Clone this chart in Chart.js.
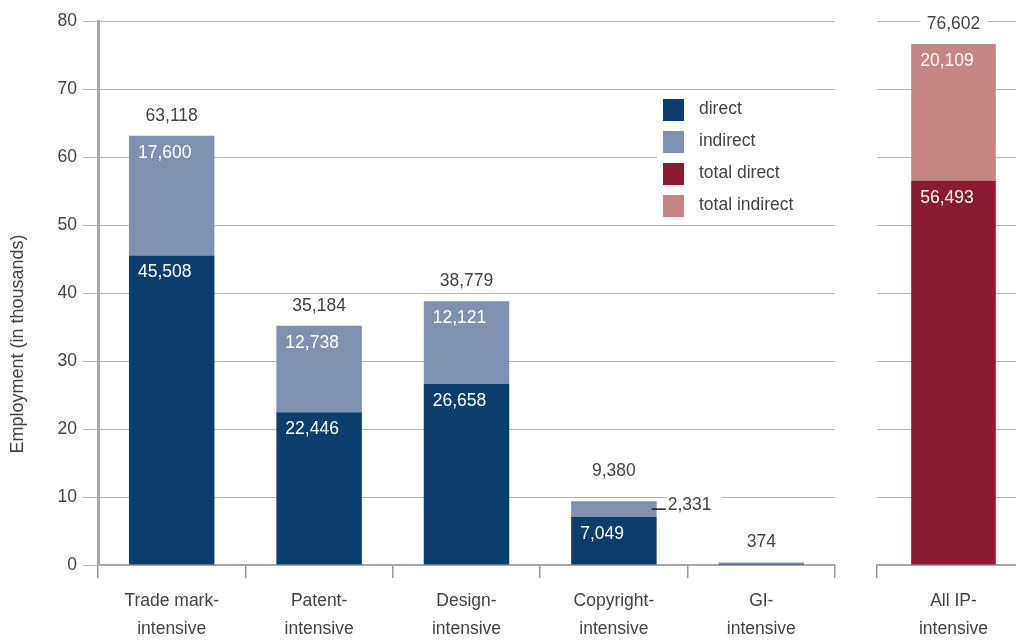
<!DOCTYPE html>
<html lang="en">
<head>
<meta charset="UTF-8">
<title>Employment in IP-intensive industries</title>
<script src="https://cdn.jsdelivr.net/npm/chart.js"></script>
<style>
  body { margin: 0; width: 1016px; height: 640px; overflow: hidden; background: #fff; position: relative; }
  #left { position: absolute; left: 0; top: 0; }
  #right { position: absolute; left: 860px; top: 0; }
</style>
</head>
<body>
<canvas id="left" width="840" height="640"></canvas>
<canvas id="right" width="170" height="640"></canvas>

<script>
// data (thousands of jobs)
const categories = [['Trade mark-', 'intensive'], ['Patent-', 'intensive'], ['Design-', 'intensive'], ['Copyright-', 'intensive'], ['GI-', 'intensive']];
const direct   = [45.508, 22.446, 26.658, 7.049, 0.15];
const indirect = [17.600, 12.738, 12.121, 2.331, 0.224];
const totals   = [63.118, 35.184, 38.779, 9.380, 0.374];

const allCategory   = [['All IP-', 'intensive']];
const totalDirect   = [56.493];
const totalIndirect = [20.109];
const allTotals     = [76.602];

const yTicks = [0, 10, 20, 30, 40, 50, 60, 70, 80];
const legendLabels = ['direct', 'indirect', 'total direct', 'total indirect'];

// colours
const C_DIRECT = '#0b3e6c';
const C_INDIRECT = '#8090b0';
const C_TDIRECT = '#8c1a33';
const C_TINDIRECT = '#c58585';
const legendColors = [C_DIRECT, C_INDIRECT, C_TDIRECT, C_TINDIRECT];

const TEXT = '#444';
const FONT = "'Liberation Sans', Arial, sans-serif";
const FSIZE = 17.5;

const fmt = v => Math.round(v * 1000).toLocaleString('en-US');

// value labels: inside segments, outside for thin ones, total on top
const barLabels = {
  id: 'barLabels',
  afterDatasetsDraw(chart, args, opts) {
    const ctx = chart.ctx;
    const metas = [chart.getDatasetMeta(0), chart.getDatasetMeta(1)];
    ctx.save();
    ctx.font = FSIZE + 'px ' + FONT;
    ctx.textBaseline = 'middle';
    metas[0].data.forEach((bar, i) => {
      const right = bar.x + bar.width / 2;
      const left = bar.x - bar.width / 2;
      let gap = 20;
      metas.forEach((m, k) => {
        const seg = m.data[i];
        const h = seg.base - seg.y;
        const txt = fmt(chart.data.datasets[k].data[i]);
        if (h >= 24) {
          ctx.fillStyle = '#fff';
          ctx.textAlign = 'left';
          ctx.fillText(txt, left + 9, seg.y + 17);
        } else if (h >= 6) {
          const mid = (seg.y + seg.base) / 2;
          const w = ctx.measureText(txt).width;
          ctx.fillStyle = '#fff';
          ctx.fillRect(right + 10, mid - 14, w + 12, 22);
          ctx.strokeStyle = '#222';
          ctx.lineWidth = 1.5;
          ctx.beginPath();
          ctx.moveTo(right - 5, mid);
          ctx.lineTo(right + 9, mid);
          ctx.stroke();
          ctx.fillStyle = TEXT;
          ctx.textAlign = 'left';
          ctx.fillText(txt, right + 11, mid - 4);
          gap = 30;
        }
      });
      const top = metas[1].data[i].y;
      const t = fmt(opts.totals[i]);
      const tw = ctx.measureText(t).width;
      const ty = top - gap;
      ctx.fillStyle = '#fff';
      ctx.fillRect(bar.x - tw / 2 - 7, ty - 11, tw + 14, 22);
      ctx.fillStyle = TEXT;
      ctx.textAlign = 'center';
      ctx.fillText(t, bar.x, ty);
    });
    ctx.restore();
  }
};

// legend box in the upper right of the left panel
const boxLegend = {
  id: 'boxLegend',
  afterDraw(chart) {
    const ctx = chart.ctx;
    const x0 = chart.chartArea.right - 172;
    const y0 = 99;
    ctx.save();
    ctx.fillStyle = '#fff';
    ctx.fillRect(x0 - 6, y0 - 6, 178, 124);
    ctx.font = '17.5px ' + FONT;
    ctx.textBaseline = 'middle';
    ctx.textAlign = 'left';
    legendLabels.forEach((lab, i) => {
      const y = y0 + i * 32;
      ctx.fillStyle = legendColors[i];
      ctx.fillRect(x0, y, 21, 22);
      ctx.fillStyle = TEXT;
      ctx.fillText(lab, x0 + 36, y + 10);
    });
    ctx.restore();
  }
};

const yTitle = {
  id: 'yTitle',
  afterDraw(chart) {
    const ctx = chart.ctx;
    ctx.save();
    ctx.translate(18, 344);
    ctx.rotate(-Math.PI / 2);
    ctx.font = '18px ' + FONT;
    ctx.fillStyle = TEXT;
    ctx.textAlign = 'center';
    ctx.textBaseline = 'middle';
    ctx.fillText('Employment (in thousands)', 0, 0);
    ctx.restore();
  }
};

function xScale() {
  return {
    stacked: true,
    afterFit(s) { s.height = 75; },
    grid: { offset: true, drawOnChartArea: false, tickLength: 13, color: '#999', lineWidth: 1.5 },
    border: { color: '#a8a8a8', width: 2 },
    ticks: { color: TEXT, padding: 9, font: { family: FONT, size: FSIZE, lineHeight: 1.6 } }
  };
}

new Chart(document.getElementById('left'), {
  type: 'bar',
  data: {
    labels: categories,
    datasets: [
      { label: 'direct', data: direct, backgroundColor: C_DIRECT },
      { label: 'indirect', data: indirect, backgroundColor: C_INDIRECT }
    ]
  },
  options: {
    responsive: false,
    animation: false,
    devicePixelRatio: 1,
    categoryPercentage: 1,
    barPercentage: 0.58,
    layout: { padding: { top: 21, right: 5, left: 0, bottom: 0 } },
    scales: {
      x: xScale(),
      y: {
        stacked: true,
        min: 0,
        max: 80,
        afterFit(s) { s.width = 98; },
        afterBuildTicks(s) { s.ticks = yTicks.map(v => ({ value: v })); },
        grid: { color: '#b5b5b5', lineWidth: 1, tickLength: 15 },
        border: { color: '#a8a8a8', width: 3 },
        ticks: { color: TEXT, padding: 6, font: { family: FONT, size: FSIZE } }
      }
    },
    plugins: {
      legend: { display: false },
      tooltip: { enabled: false },
      barLabels: { totals: totals }
    }
  },
  plugins: [barLabels, boxLegend, yTitle]
});

new Chart(document.getElementById('right'), {
  type: 'bar',
  data: {
    labels: allCategory,
    datasets: [
      { label: 'total direct', data: totalDirect, backgroundColor: C_TDIRECT },
      { label: 'total indirect', data: totalIndirect, backgroundColor: C_TINDIRECT }
    ]
  },
  options: {
    responsive: false,
    animation: false,
    devicePixelRatio: 1,
    categoryPercentage: 1,
    barPercentage: 0.553,
    layout: { padding: { top: 21, right: -12, left: 0, bottom: 0 } },
    scales: {
      x: xScale(),
      y: {
        stacked: true,
        min: 0,
        max: 80,
        afterFit(s) { s.width = 17; },
        afterBuildTicks(s) { s.ticks = yTicks.map(v => ({ value: v })); },
        grid: { color: '#b5b5b5', lineWidth: 1, drawTicks: false },
        border: { display: false },
        ticks: { display: false }
      }
    },
    plugins: {
      legend: { display: false },
      tooltip: { enabled: false },
      barLabels: { totals: allTotals }
    }
  },
  plugins: [barLabels]
});
</script>
</body>
</html>
